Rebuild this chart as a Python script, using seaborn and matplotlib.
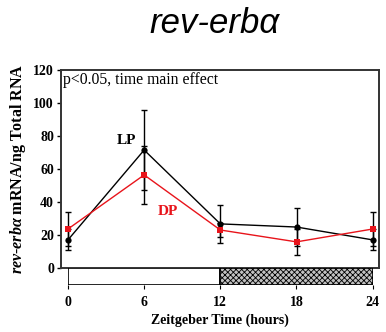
import matplotlib
matplotlib.use("Agg")
import matplotlib.pyplot as plt
import pandas as pd
import seaborn as sns

# Zeitgeber time points and group means (± error) of rev-erbα expression
zt = [0, 6, 12, 18, 24]
lp_mean = [17.0, 71.5, 26.7, 24.8, 17.0]
lp_err = [6.4, 24.0, 11.5, 11.6, 6.4]
dp_mean = [23.6, 56.4, 23.0, 15.8, 23.6]
dp_err = [10.5, 17.5, 4.0, 8.0, 10.5]
groups = ["LP", "DP"]
y_ticks = [0, 20, 40, 60, 80, 100, 120]
x_ticks = [0, 6, 12, 18, 24]
# light/dark phases for the bar under the axis
phase_start = [0, 12]
phase_len = [12, 12]

RED = "#e8141b"

sns.set_style("white")
plt.rcParams["font.family"] = ["Liberation Serif", "DejaVu Serif"]
plt.rcParams["text.color"] = "black"
plt.rcParams["axes.labelcolor"] = "black"
plt.rcParams["xtick.color"] = "black"
plt.rcParams["ytick.color"] = "black"
plt.rcParams["hatch.color"] = "#6a6a6a"
plt.rcParams["hatch.linewidth"] = 0.6
plt.rcParams["mathtext.fontset"] = "custom"
plt.rcParams["mathtext.it"] = "Liberation Serif:italic:bold"
plt.rcParams["mathtext.rm"] = "Liberation Serif:bold"
plt.rcParams["mathtext.bf"] = "Liberation Serif:bold"

fig = plt.figure(figsize=(3.86, 3.32), dpi=100)
ax = fig.add_axes([0.158, 0.193, 0.824, 0.596])

df = pd.DataFrame({
    "zt": zt * 2,
    "mean": lp_mean + dp_mean,
    "group": [groups[0]] * len(zt) + [groups[1]] * len(zt),
})

ax.errorbar(zt, lp_mean, yerr=lp_err, fmt="none", ecolor="black",
            elinewidth=1, capsize=2, capthick=1, zorder=2)
ax.errorbar(zt, dp_mean, yerr=dp_err, fmt="none", ecolor="black",
            elinewidth=1, capsize=2, capthick=1, zorder=2)
sns.lineplot(data=df, x="zt", y="mean", hue="group", style="group",
             markers={"LP": "o", "DP": "s"}, dashes=False,
             palette={"LP": "black", "DP": RED}, legend=False, ax=ax,
             linewidth=1, markersize=4.5, markeredgewidth=0, zorder=3)

ax.set_xlim(-0.55, 24.5)
ax.set_ylim(0, 120)
ax.set_yticks(y_ticks)
ax.set_yticklabels([str(v) for v in y_ticks], fontweight="bold", fontsize=10)
ax.set_xticks([])
ax.set_xlabel("")
ax.set_ylabel(r"$\mathit{rev}$-$\mathit{erb\alpha}$ mRNA/ng Total RNA",
              fontweight="bold", fontsize=11.5, labelpad=4)
ax.tick_params(axis="y", direction="out", length=3, width=1, pad=2, left=True)
for s in ax.spines.values():
    s.set_color("#333333")
    s.set_linewidth(1.4)

ax.text(-0.39, 111.3, "p<0.05, time main effect", fontsize=11.3,
        va="baseline", ha="left")
ax.text(4.57, 77, "LP", fontsize=11, fontweight="bold", color="black",
        ha="center", va="center")
ax.text(7.86, 34.1, "DP", fontsize=11, fontweight="bold", color=RED,
        ha="center", va="center")

# light/dark bar beneath the plot
bx = fig.add_axes([0.1762, 0.1416, 0.789, 0.0512])
bx.barh(0, phase_len[0], left=phase_start[0], height=1, color="white",
        edgecolor="black", linewidth=1.2)
bx.barh(0, phase_len[1], left=phase_start[1], height=1, color="#c2c2c2",
        edgecolor="black", linewidth=1.2, hatch="xxxxxx")
bx.set_xlim(0, 24)
bx.set_ylim(-0.5, 0.5)
bx.set_yticks([])
bx.set_xticks(x_ticks)
bx.set_xticklabels([str(v) for v in x_ticks], fontweight="bold", fontsize=10)
bx.tick_params(axis="x", direction="out", length=3, width=0.8, pad=5,
               bottom=True)
for s in bx.spines.values():
    s.set_visible(False)
bx.set_xlabel("Zeitgeber Time (hours)", fontweight="bold", fontsize=10,
              labelpad=3)

fig.text(0.555, 0.928, "rev-erbα", fontsize=25, style="italic",
         family=["Liberation Sans", "DejaVu Sans"], ha="center", va="center",
         color="black")

fig.savefig("out.png", dpi=100, facecolor="white")
